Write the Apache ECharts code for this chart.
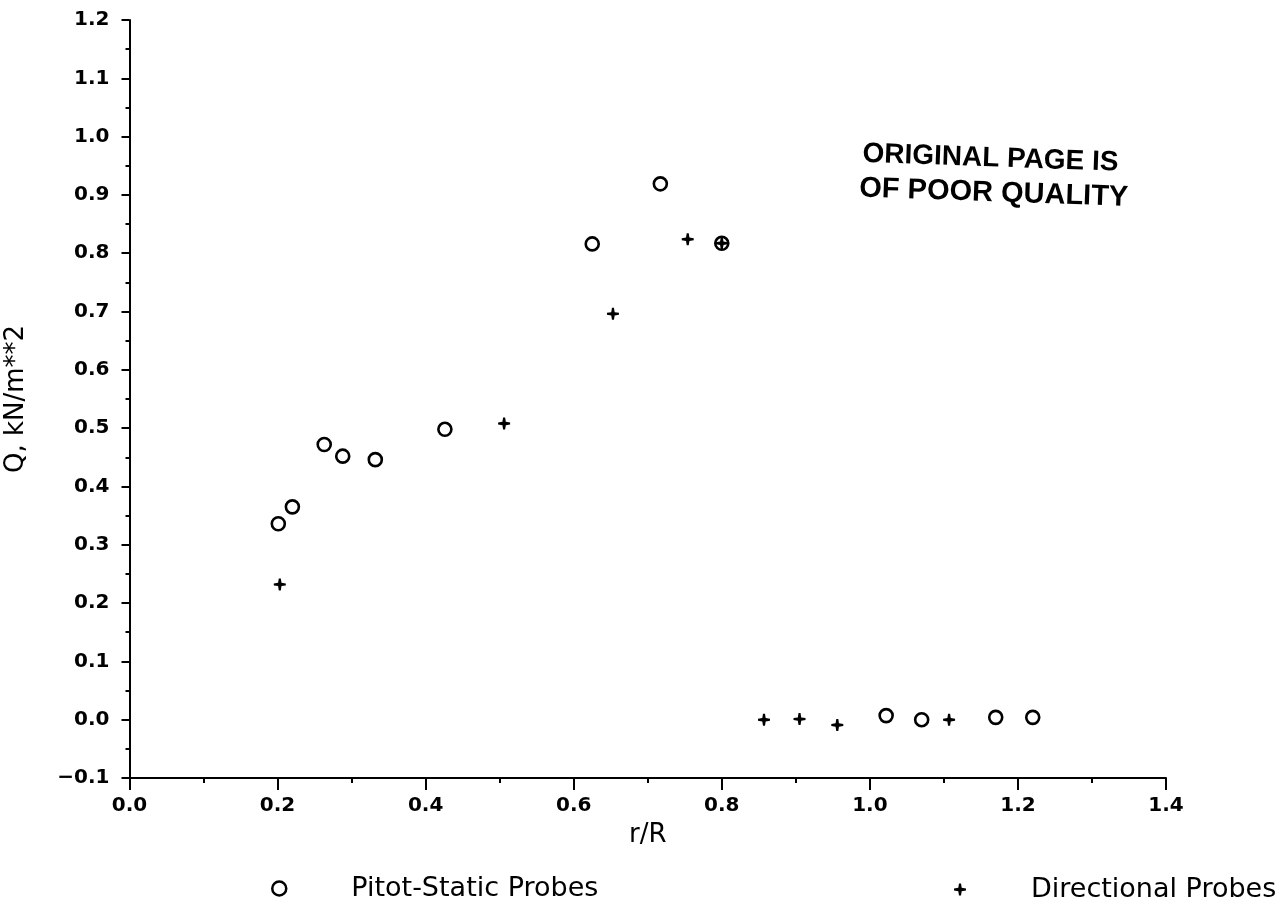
<!DOCTYPE html>
<html><head><meta charset="utf-8">
<script src="https://cdn.jsdelivr.net/npm/echarts@6/dist/echarts.min.js"></script>
<style>html,body{margin:0;padding:0;background:#fff}#c{width:1285px;height:901px}</style>
</head><body><div id="c"></div>
<script>
// Data
const pitotX = [0.201, 0.220, 0.263, 0.288, 0.332, 0.426, 0.625, 0.717, 0.800, 1.022, 1.070, 1.170, 1.220];
const pitotY = [0.336, 0.365, 0.472, 0.452, 0.446, 0.498, 0.816, 0.919, 0.817, 0.007, 0.000, 0.004, 0.004];
const dirX = [0.203, 0.506, 0.653, 0.754, 0.800, 0.857, 0.905, 0.956, 1.107];
const dirY = [0.232, 0.508, 0.696, 0.824, 0.817, 0.000, 0.001, -0.009, 0.000];
const seriesNames = ['Pitot-Static Probes', 'Directional Probes'];
const xAxisName = 'r/R';
const yAxisName = 'Q, kN/m**2';
const stampLines = ['ORIGINAL PAGE IS', 'OF POOR QUALITY'];

const plusPath = 'path://M-1,-6L1,-6L1.7,-1.7L6,-1L6,1L1.7,1.7L1,6L-1,6L-1.7,1.7L-6,1L-6,-1L-1.7,-1.7Z';
const fmt = v => (v < -1e-9 ? '\u2212' : '') + Math.abs(v).toFixed(1);
const tickFont = { fontSize: 20, fontWeight: 'bold', fontFamily: 'DejaVu Sans', color: '#000' };
const nameFont = { fontSize: 26, fontFamily: 'DejaVu Sans', color: '#000' };
const black2 = { color: '#000', width: 2 };

const chart = echarts.init(document.getElementById('c'), null, { renderer: 'canvas' });
chart.setOption({
  animation: false,
  backgroundColor: '#fff',
  grid: { left: 129.5, right: 119, top: 20, bottom: 123, containLabel: false, outerBoundsMode: 'none' },
  xAxis: {
    type: 'value', min: 0, max: 1.4, interval: 0.2,
    name: xAxisName, nameLocation: 'middle', nameGap: 44, nameTextStyle: nameFont,
    axisLine: { show: true, onZero: false, lineStyle: black2 },
    axisTick: { show: true, inside: false, length: 12, lineStyle: black2 },
    minorTick: { show: true, splitNumber: 2, length: 5, lineStyle: black2 },
    splitLine: { show: false }, minorSplitLine: { show: false },
    axisLabel: Object.assign({ margin: 18, formatter: fmt }, tickFont)
  },
  yAxis: {
    type: 'value', min: -0.1, max: 1.2, interval: 0.1,
    name: yAxisName, nameLocation: 'middle', nameGap: 100, nameTextStyle: nameFont,
    axisLine: { show: true, onZero: false, lineStyle: black2 },
    axisTick: { show: true, inside: false, length: 8, lineStyle: black2 },
    minorTick: { show: true, splitNumber: 2, length: 4, lineStyle: black2 },
    splitLine: { show: false }, minorSplitLine: { show: false },
    axisLabel: Object.assign({ margin: 20, formatter: fmt }, tickFont)
  },
  legend: [
    {
      data: [{ name: seriesNames[0], icon: 'circle' }],
      left: 271, top: 875, padding: 0, itemWidth: 14, itemHeight: 14, selectedMode: false,
      itemStyle: { color: '#fff', borderColor: '#000', borderWidth: 2.5, opacity: 1 },
      formatter: n => '{g| }' + n,
      textStyle: { fontSize: 27, fontFamily: 'DejaVu Sans', color: '#000', rich: { g: { width: 60 } } }
    },
    {
      data: [{ name: seriesNames[1], icon: plusPath }],
      left: 954, top: 876, padding: 0, itemWidth: 12, itemHeight: 12, selectedMode: false,
      itemStyle: { color: '#000', borderWidth: 0, opacity: 1 },
      formatter: n => '{g| }' + n,
      textStyle: { fontSize: 27, fontFamily: 'DejaVu Sans', color: '#000', rich: { g: { width: 60 } } }
    }
  ],
  graphic: [{
    type: 'group', x: 861, y: 140, rotation: -0.035, silent: true,
    children: [
      { type: 'text', x: 2, y: 0, style: { text: stampLines[0], font: 'bold 28px "Liberation Sans"', fill: '#000' } },
      { type: 'text', x: 0, y: 34, style: { text: stampLines[1], font: 'bold 29px "Liberation Sans"', fill: '#000' } }
    ]
  }],
  series: [
    {
      name: seriesNames[0], type: 'scatter', symbol: 'circle', symbolSize: 13,
      itemStyle: { color: '#fff', borderColor: '#000', borderWidth: 2.6, opacity: 1 },
      emphasis: { disabled: true },
      data: pitotX.map((x, i) => [x, pitotY[i]])
    },
    {
      name: seriesNames[1], type: 'scatter', symbol: plusPath, symbolSize: 12,
      itemStyle: { color: '#000', opacity: 1 },
      emphasis: { disabled: true },
      data: dirX.map((x, i) => [x, dirY[i]])
    }
  ]
});
</script>
</body></html>
